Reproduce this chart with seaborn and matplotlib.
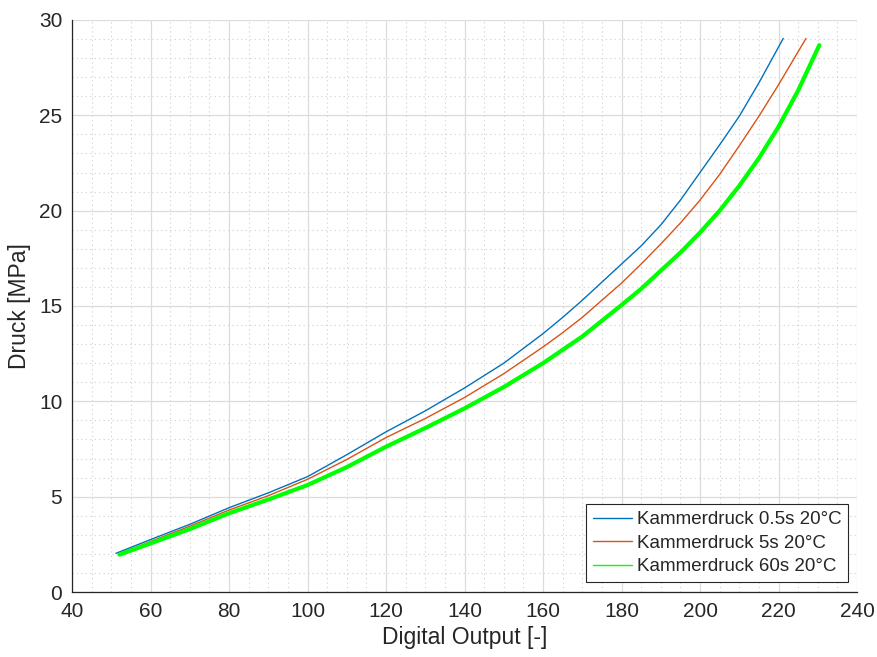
import matplotlib
matplotlib.use("Agg")
import matplotlib.pyplot as plt
from matplotlib.ticker import MultipleLocator
import seaborn as sns
import pandas as pd

# Data
x_05s = [51.2, 60, 70, 80, 90, 100, 110, 120, 130, 140, 150, 160, 165, 170, 175, 180,
         185, 190, 195, 200, 205, 210, 215, 221.2]
y_05s = [2.03, 2.75, 3.55, 4.42, 5.2, 6.05, 7.2, 8.4, 9.5, 10.7, 12.0, 13.55, 14.4, 15.3,
         16.25, 17.2, 18.15, 19.25, 20.55, 22.0, 23.45, 24.95, 26.7, 29.03]

x_5s = [52.0, 60, 70, 80, 90, 100, 110, 120, 130, 140, 150, 160, 165, 170, 175, 180,
        185, 190, 195, 200, 205, 210, 215, 220, 227.0]
y_5s = [2.0, 2.65, 3.45, 4.3, 5.05, 5.91, 6.95, 8.1, 9.1, 10.2, 11.45, 12.85, 13.6, 14.4,
        15.3, 16.2, 17.2, 18.25, 19.35, 20.55, 21.9, 23.4, 24.95, 26.6, 29.03]

x_60s = [52.1, 60, 70, 80, 90, 100, 110, 120, 130, 140, 150, 160, 170, 180, 185, 190,
         195, 200, 205, 210, 215, 220, 225, 230.4]
y_60s = [1.96, 2.55, 3.3, 4.13, 4.85, 5.61, 6.55, 7.62, 8.6, 9.63, 10.75, 12.0, 13.4,
         15.05, 15.9, 16.85, 17.8, 18.85, 20.0, 21.3, 22.75, 24.4, 26.3, 28.68]

labels = ["Kammerdruck 0.5s 20°C", "Kammerdruck 5s 20°C", "Kammerdruck 60s 20°C"]
colors = ["#0072BD", "#D95319", "#00FF00"]
widths = [1.0, 1.0, 3.0]

x_ticks = [40, 60, 80, 100, 120, 140, 160, 180, 200, 220, 240]
y_ticks = [0, 5, 10, 15, 20, 25, 30]

sns.set_style("white")
plt.rcParams["font.family"] = ["Liberation Sans", "DejaVu Sans"]

fig = plt.figure(figsize=(8.77, 6.57), dpi=100)
ax = fig.add_axes([0.0821, 0.0989, 0.8951, 0.8707])

series = [(x_05s, y_05s), (x_5s, y_5s), (x_60s, y_60s)]
for (xs, ys), lab, col, lw in zip(series, labels, colors, widths):
    df = pd.DataFrame({"x": xs, "y": ys})
    sns.lineplot(data=df, x="x", y="y", ax=ax, color=col, linewidth=lw,
                 label=lab, sort=False, estimator=None)

ax.set_xlim(40, 240)
ax.set_ylim(0, 30)
ax.set_xticks(x_ticks)
ax.set_yticks(y_ticks)
ax.xaxis.set_minor_locator(MultipleLocator(5))
ax.yaxis.set_minor_locator(MultipleLocator(1))
ax.grid(which="major", color="#dcdcdc", linewidth=0.9, linestyle="-")
ax.grid(which="minor", color="#cfcfcf", linewidth=0.8, linestyle=(0, (1, 3)))
ax.set_axisbelow(True)

ax.tick_params(axis="both", which="major", direction="in", length=5, width=0.8,
               labelsize=15, colors="#262626", pad=7)
ax.tick_params(axis="both", which="minor", length=0)
for s in ["top", "right"]:
    ax.spines[s].set_visible(False)
for s in ["left", "bottom"]:
    ax.spines[s].set_color("#262626")
    ax.spines[s].set_linewidth(0.9)

ax.set_xlabel("Digital Output [-]", fontsize=16.5, color="#262626", labelpad=4)
ax.set_ylabel("Druck [MPa]", fontsize=16.5, color="#262626", labelpad=6)

leg = ax.legend(loc="lower right", bbox_to_anchor=(0.9885, 0.0175), fontsize=13.5,
                frameon=True, fancybox=False, framealpha=1, edgecolor="#262626",
                handlelength=2.1, handletextpad=0.25, borderpad=0.35, labelspacing=0.35,
                borderaxespad=0)
leg.get_frame().set_linewidth(0.8)
for h in leg.get_lines():
    h.set_linewidth(1.0)

fig.savefig("out.png", dpi=100)
